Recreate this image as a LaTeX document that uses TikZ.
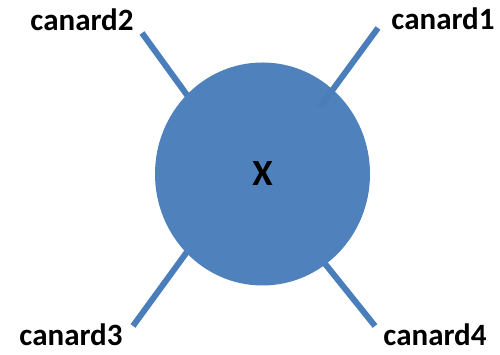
\documentclass[tikz,border=0pt]{standalone}
\usepackage{fontspec}
\setsansfont{Carlito}
\usetikzlibrary{shapes.geometric,backgrounds,positioning}
\definecolor{duckblue}{HTML}{4F81BD}
\definecolor{duckline}{HTML}{4A7EBB}
\tikzstyle{every picture}+=[font=\sffamily]

\begin{document}
\begin{tikzpicture}
				[x=1pt, y=1pt, font=\sffamily\bfseries, inner sep=0pt,
				blob/.style		= {ellipse, fill=duckblue, minimum width=215pt, minimum height=223pt},
				leg/.style		= {draw=duckline, line width=6pt},
				duck/.style		= {black, font=\sffamily\bfseries\fontsize{31}{36}\selectfont}]
				
				\useasboundingbox (0,0) rectangle (500,355);
				
				\node [blob]	at (262.5,181)	(x)	{};
				\node [black, font=\sffamily\bfseries\fontsize{37}{40}\selectfont]	at (x)	(xl)	{X};
				
				\node [duck]	at (443,336)	(c1)	{canard1};
				\node [duck]	at (82,335)		(c2)	{canard2};
				\node [duck]	at (71,20)		(c3)	{canard3};
				\node [duck]	at (435,20)		(c4)	{canard4};
				
				\coordinate	(e1)	at (378,327);
				\coordinate	(e2)	at (142,322);
				\coordinate	(e3)	at (133,29);
				\coordinate	(e4)	at (375,29);
				\coordinate	(i1)	at (320,248);
				\coordinate	(i2)	at (200,242);
				\coordinate	(i3)	at (200,121);
				\coordinate	(i4)	at (318,100);
				
				\draw [leg]	(e1) -- (i1);
				
				\begin{scope}[on background layer]
				\draw [leg]	(e2) -- (i2);
				\draw [leg]	(e3) -- (i3);
				\draw [leg]	(e4) -- (i4);
				\end{scope}
				\end{tikzpicture}
\end{document}
